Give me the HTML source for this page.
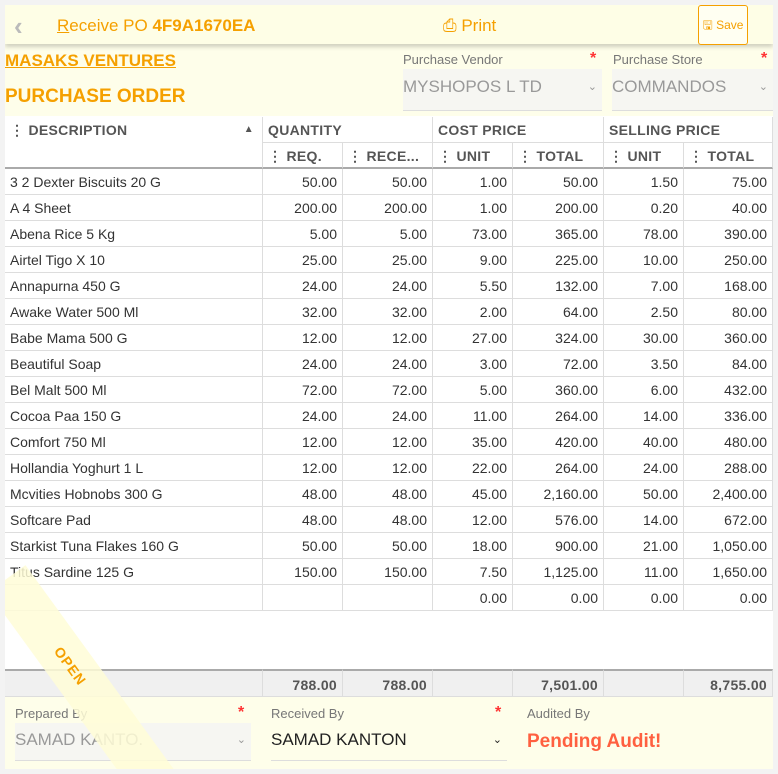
<!DOCTYPE html>
<html><head><meta charset="utf-8">
<style>
*{box-sizing:border-box;margin:0;padding:0}
html,body{width:778px;height:774px;overflow:hidden}
body{background:#f3f3f3;font-family:"Liberation Sans",sans-serif;position:relative;color:#333}
.abs{position:absolute}
#panel{left:5px;top:5px;width:768px;height:764px;background:#fff;overflow:hidden}
.cell{position:absolute;font-size:14px;line-height:26px;white-space:nowrap;overflow:hidden;border-right:1px solid #ddd;border-bottom:1px solid #ddd;padding:0 5px}
.num{text-align:right}
.hd{font-weight:bold;color:#555;font-size:14px;letter-spacing:.3px}
.lbl{font-size:13px;color:#777}
.star{color:#f33;font-size:16px;font-weight:bold}
</style></head><body>
<div id="panel" class="abs">
  <div class="abs" style="left:0;top:0;width:768px;height:111px;background:#fefeea"></div>
  <div class="abs" style="left:0;top:0;width:768px;height:39px;background:#fefee6;box-shadow:0 3px 4px rgba(0,0,0,.18)">
    <div class="abs" style="left:9px;top:6px;font-size:26px;color:#bbb;font-weight:bold">‹</div>
    <div class="abs" style="left:52px;top:11px;font-size:17px;color:#f5a000"><u>R</u>eceive PO <b>4F9A1670EA</b></div>
    <div class="abs" style="left:438px;top:11px;font-size:17px;color:#f5a000">⎙ Print</div>
    <div class="abs" style="left:693px;top:0;width:50px;height:40px;border:1px solid #f5a000;border-radius:3px;background:#fffff2;font-size:12px;color:#f5a000;line-height:38px;text-align:center">🖫 Save</div>
  </div>
  <div class="abs" style="left:0;top:46px;font-size:17px;font-weight:bold;color:#f5a000;text-decoration:underline">MASAKS VENTURES</div>
  <div class="abs" style="left:0;top:81px;font-size:19px;font-weight:bold;color:#f5a000">PURCHASE ORDER</div>
  <div class="abs lbl" style="left:398px;top:47px">Purchase Vendor</div>
  <div class="abs star" style="left:585px;top:45px">*</div>
  <div class="abs" style="left:398px;top:64px;width:199px;height:42px;background:#f6f6f2;border-bottom:1px solid #ddd;color:#999;font-size:17px;line-height:36px">MYSHOPOS L TD<span style="position:absolute;right:5px;font-size:11px">⌄</span></div>
  <div class="abs lbl" style="left:608px;top:47px">Purchase Store</div>
  <div class="abs star" style="left:756px;top:45px">*</div>
  <div class="abs" style="left:607px;top:64px;width:161px;height:42px;background:#f6f6f2;border-bottom:1px solid #ddd;color:#999;font-size:17px;line-height:36px">COMMANDOS<span style="position:absolute;right:5px;font-size:11px">⌄</span></div>
  <div id="tbl" class="abs" style="left:0;top:112px;width:768px;height:580px"></div>
  <div class="abs" style="left:0;top:692px;width:768px;height:72px;background:#fefeea">
    <div class="abs lbl" style="left:10px;top:9px">Prepared By</div>
    <div class="abs star" style="left:233px;top:7px">*</div>
    <div class="abs" style="left:10px;top:26px;width:236px;height:38px;background:#f6f6f2;border-bottom:1px solid #ddd;color:#999;font-size:17px;line-height:34px">SAMAD KANTO.<span style="position:absolute;right:5px;font-size:11px">⌄</span></div>
    <div class="abs lbl" style="left:266px;top:9px">Received By</div>
    <div class="abs star" style="left:490px;top:7px">*</div>
    <div class="abs" style="left:266px;top:26px;width:236px;height:38px;border-bottom:1px solid #ddd;color:#222;font-size:17px;line-height:34px">SAMAD KANTON<span style="position:absolute;right:5px;font-size:11px">⌄</span></div>
    <div class="abs lbl" style="left:522px;top:9px">Audited By</div>
    <div class="abs" style="left:522px;top:34px;font-size:19px;font-weight:bold;color:#ff6040">Pending Audit!</div>
  </div>
  <div class="abs" style="left:-60px;top:672px;width:300px;height:46px;background:rgba(255,253,215,.85);transform:rotate(54deg);transform-origin:center;color:#f5a000;font-weight:bold;font-size:14px;text-align:center;line-height:46px;letter-spacing:1px"><span style="position:relative;left:-42px">OPEN</span></div>
</div>
<script>
const descriptions=["3 2 Dexter Biscuits 20 G","A 4 Sheet","Abena Rice 5 Kg","Airtel Tigo X 10","Annapurna 450 G","Awake Water 500 Ml","Babe Mama 500 G","Beautiful Soap","Bel Malt 500 Ml","Cocoa Paa 150 G","Comfort 750 Ml","Hollandia Yoghurt 1 L","Mcvities Hobnobs 300 G","Softcare Pad","Starkist Tuna Flakes 160 G","Titus Sardine 125 G"];
const reqQty=[50,200,5,25,24,32,12,24,72,24,12,12,48,48,50,150];
const recQty=[50,200,5,25,24,32,12,24,72,24,12,12,48,48,50,150];
const costUnit=[1,1,73,9,5.5,2,27,3,5,11,35,22,45,12,18,7.5];
const sellUnit=[1.5,0.2,78,10,7,2.5,30,3.5,6,14,40,24,50,14,21,11];
const colX=[0,258,338,428,508,599,679,768];
const tbl=document.getElementById('tbl');
const fmt=v=>v.toLocaleString('en-US',{minimumFractionDigits:2,maximumFractionDigits:2});
function cell(x,y,w,h,txt,cls,name,style){
  const d=document.createElement('div');
  d.className='cell '+cls;
  d.style.left=x+'px';d.style.top=y+'px';d.style.width=w+'px';d.style.height=h+'px';d.style.lineHeight=h+'px';
  if(style)d.style.cssText+=style;
  d.textContent=txt;
  
  
  tbl.appendChild(d);return d;
}
const hdc=cell(0,0,258,52,'⋮ DESCRIPTION','hd','description-header','line-height:26px');
const ar=document.createElement('span');ar.textContent='▲';ar.style.cssText='position:absolute;right:8px;top:0;font-size:10px;color:#555';hdc.appendChild(ar);
cell(258,0,170,26,'QUANTITY','hd','quantity-header');
cell(428,0,171,26,'COST PRICE','hd','cost-price-header');
cell(599,0,169,26,'SELLING PRICE','hd','selling-price-header');
const subs=['⋮ REQ.','⋮ RECE...','⋮ UNIT','⋮ TOTAL','⋮ UNIT','⋮ TOTAL'];
for(let i=0;i<6;i++){const c=cell(colX[i+1],26,colX[i+2]-colX[i+1],26,subs[i],'hd','sub-header-'+i);c.style.borderBottom='2px solid #aaa';}
tbl.children[0].style.borderBottom='2px solid #aaa';
let y=52;
let tR=0,tC=0,tS=0,tQ=0;
for(let r=0;r<descriptions.length;r++){
  const ct=costUnit[r]*recQty[r],st=sellUnit[r]*recQty[r];
  tQ+=reqQty[r];tR+=recQty[r];tC+=ct;tS+=st;
  const vals=[descriptions[r],fmt(reqQty[r]),fmt(recQty[r]),fmt(costUnit[r]),fmt(ct),fmt(sellUnit[r]),fmt(st)];
  for(let i=0;i<7;i++) cell(colX[i],y,colX[i+1]-colX[i],26,vals[i],i?'num':'','row-'+r+'-col-'+i);
  y+=26;
}
const em=['','','','0.00','0.00','0.00','0.00'];
for(let i=0;i<7;i++) cell(colX[i],y,colX[i+1]-colX[i],26,em[i],'num','empty-row-col-'+i);
const tot=['',fmt(tQ),fmt(tR),'',fmt(tC),'',fmt(tS)];
for(let i=0;i<7;i++){cell(colX[i],552,colX[i+1]-colX[i],28,tot[i],'num hd','total-col-'+i,'background:#f0f0f0;border-top:2px solid #aaa;color:#555');}
</script>
</body></html>
